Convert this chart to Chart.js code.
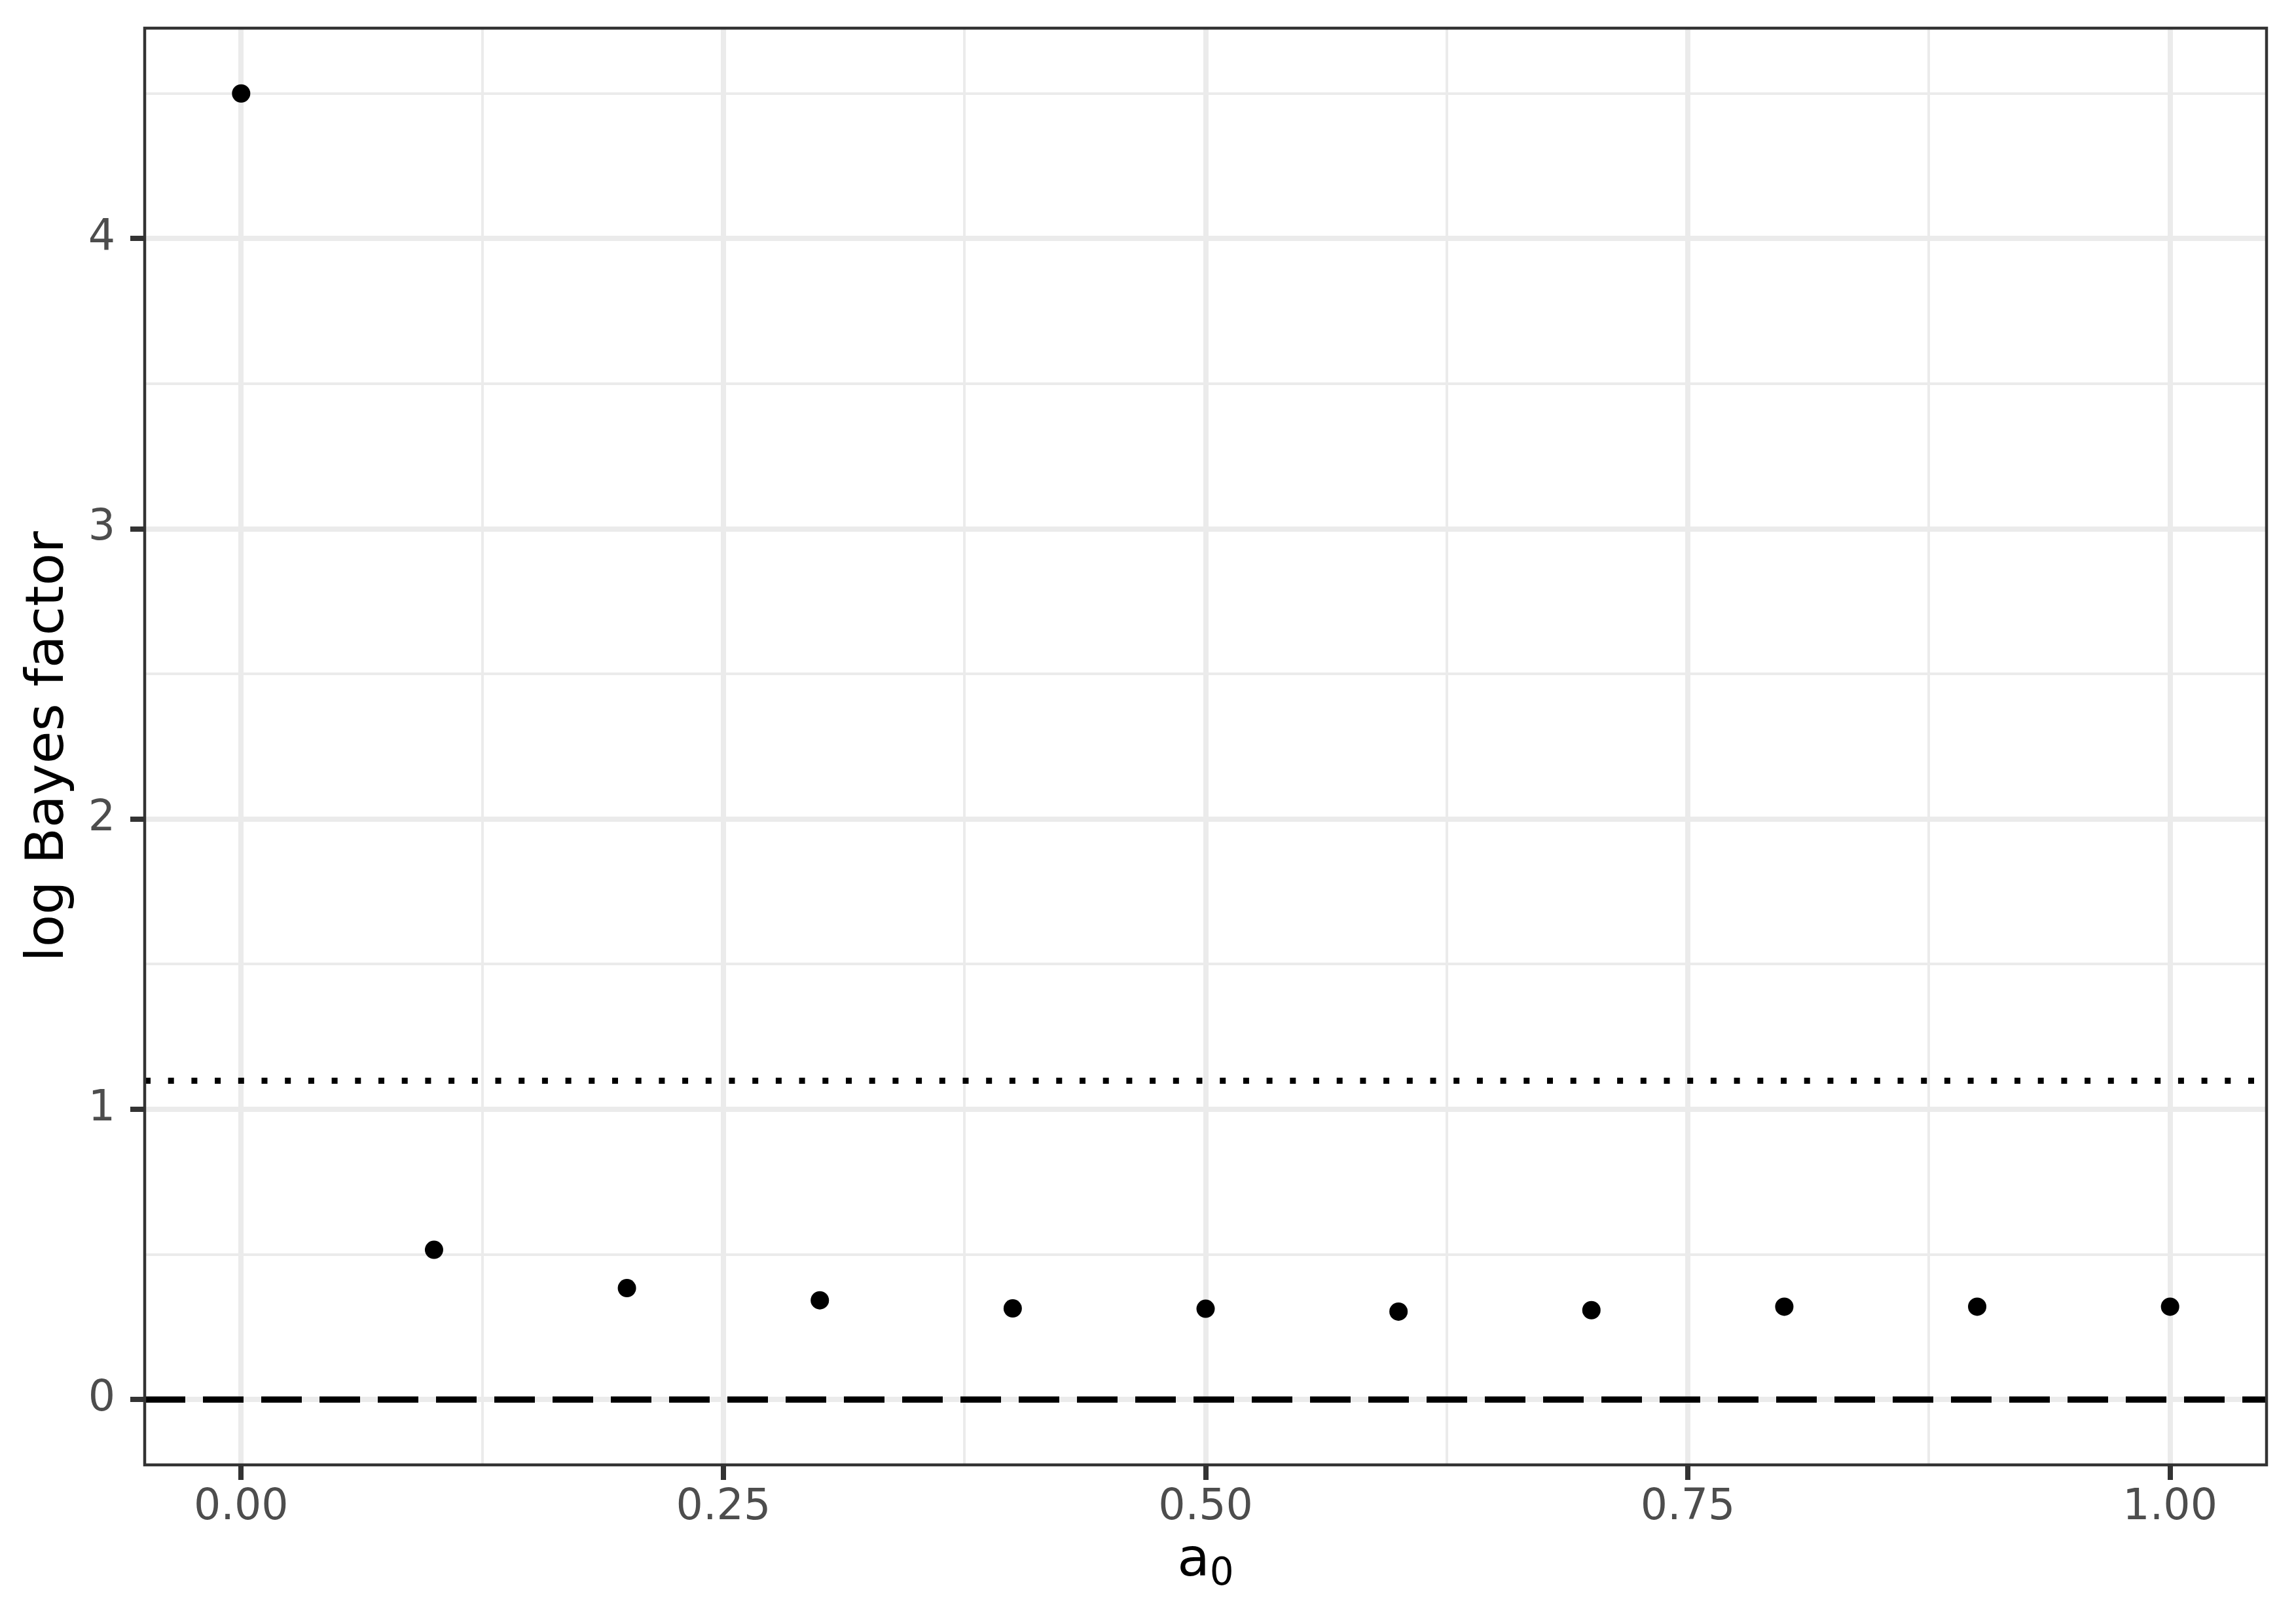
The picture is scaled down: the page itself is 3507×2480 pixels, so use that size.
<!DOCTYPE html>
<html lang="en">
<head>
<meta charset="UTF-8">
<title>log Bayes factor vs a0</title>
<script src="https://cdn.jsdelivr.net/npm/chart.js"></script>
<style>
  html,body{margin:0;padding:0;background:#fff}
  canvas{display:block}
</style>
</head>
<body>
<canvas id="chart" width="3507" height="2480"></canvas>
<script>
// values
const a0Values=[0.0,0.1,0.2,0.3,0.4,0.5,0.6,0.7,0.8,0.9,1.0];
const logBF=[4.50,0.516,0.384,0.342,0.314,0.313,0.303,0.308,0.320,0.320,0.320];

// reference lines
const dashedRef=0;
const dottedRef=1.0986;

// axis ranges and breaks
const xRange=[-0.05,1.05];
const yRange=[-0.225,4.725];
const xMajor=[0,0.25,0.5,0.75,1];
const xMajorLabels=['0.00','0.25','0.50','0.75','1.00'];
const xMinor=[0.125,0.375,0.625,0.875];
const yMajor=[0,1,2,3,4];
const yMajorLabels=['0','1','2','3','4'];
const yMinor=[0.5,1.5,2.5,3.5,4.5];
const xTitle=['a','0']; // a with subscript 0

const FONT='DejaVu Sans';

function ticksFrom(major,minor){
  return major.concat(minor).sort((a,b)=>a-b).map(v=>({value:v}));
}
function isMajor(list,v){return list.some(m=>Math.abs(m-v)<1e-9);}

// panel border on top + x title with real subscript
const panelBox={
  id:'panelBox',
  afterDatasetsDraw(chart){
    const {ctx,chartArea:a}=chart;
    ctx.save();
    ctx.strokeStyle='#333333';
    ctx.lineWidth=4.5;
    ctx.strokeRect(a.left,a.top,a.right-a.left,a.bottom-a.top);
    ctx.restore();
  },
  afterDraw(chart){
    const {ctx,chartArea:a}=chart;
    ctx.save();
    ctx.fillStyle='#000';
    ctx.textBaseline='alphabetic';
    ctx.textAlign='left';
    ctx.font=`81px "${FONT}"`;
    const w1=ctx.measureText(xTitle[0]).width;
    ctx.font=`58px "${FONT}"`;
    const w2=ctx.measureText(xTitle[1]).width;
    const x0=(a.left+a.right)/2-(w1+w2)/2;
    const base=a.bottom+169;
    ctx.font=`81px "${FONT}"`;
    ctx.fillText(xTitle[0],x0,base);
    ctx.font=`58px "${FONT}"`;
    ctx.fillText(xTitle[1],x0+w1,base+14);
    ctx.restore();
  }
};

new Chart(document.getElementById('chart'),{
  type:'scatter',
  data:{
    datasets:[
      {
        type:'line',
        data:[{x:xRange[0],y:dashedRef},{x:xRange[1],y:dashedRef}],
        borderColor:'#000',borderWidth:9.3,borderDash:[62,27],borderCapStyle:'butt',
        pointRadius:0,fill:false
      },
      {
        type:'line',
        data:[{x:xRange[0],y:dottedRef},{x:xRange[1],y:dottedRef}],
        borderColor:'#000',borderWidth:9.3,borderDash:[9,26.7],borderCapStyle:'butt',
        pointRadius:0,fill:false
      },
      {
        data:a0Values.map((x,i)=>({x,y:logBF[i]})),
        backgroundColor:'#000',borderWidth:0,pointRadius:14,pointHoverRadius:14
      }
    ]
  },
  plugins:[panelBox],
  options:{
    responsive:false,
    devicePixelRatio:1,
    animation:false,
    events:[],
    layout:{padding:{top:43,right:45,left:0,bottom:0}},
    plugins:{legend:{display:false},tooltip:{enabled:false}},
    scales:{
      x:{
        type:'linear',min:xRange[0],max:xRange[1],
        afterBuildTicks:axis=>{axis.ticks=ticksFrom(xMajor,xMinor);},
        afterFit:s=>{s.height=243;s.paddingLeft=0;s.paddingRight=0;},
        border:{display:false},
        grid:{
          color:'#EBEBEB',
          lineWidth:c=>isMajor(xMajor,c.tick.value)?8:4,
          tickColor:c=>isMajor(xMajor,c.tick.value)?'#333333':'rgba(0,0,0,0)',
          tickWidth:8,tickLength:23,drawTicks:true
        },
        ticks:{
          autoSkip:false,maxRotation:0,padding:4,color:'#4D4D4D',
          font:{family:FONT,size:65},
          callback:v=>{const i=xMajor.findIndex(m=>Math.abs(m-v)<1e-9);return i<0?'':xMajorLabels[i];}
        },
        title:{display:false}
      },
      y:{
        type:'linear',min:yRange[0],max:yRange[1],
        afterBuildTicks:axis=>{axis.ticks=ticksFrom(yMajor,yMinor);},
        afterFit:s=>{s.width=221;s.paddingTop=0;s.paddingBottom=0;},
        border:{display:false},
        grid:{
          color:'#EBEBEB',
          lineWidth:c=>isMajor(yMajor,c.tick.value)?8:4,
          tickColor:c=>isMajor(yMajor,c.tick.value)?'#333333':'rgba(0,0,0,0)',
          tickWidth:8,tickLength:22,drawTicks:true
        },
        ticks:{
          autoSkip:false,padding:23,color:'#4D4D4D',
          font:{family:FONT,size:65},
          callback:v=>{const i=yMajor.findIndex(m=>Math.abs(m-v)<1e-9);return i<0?'':yMajorLabels[i];}
        },
        title:{display:true,text:'log Bayes factor',color:'#000',font:{family:FONT,size:81},padding:{top:26,bottom:0}}
      }
    }
  }
});
</script>
</body>
</html>
